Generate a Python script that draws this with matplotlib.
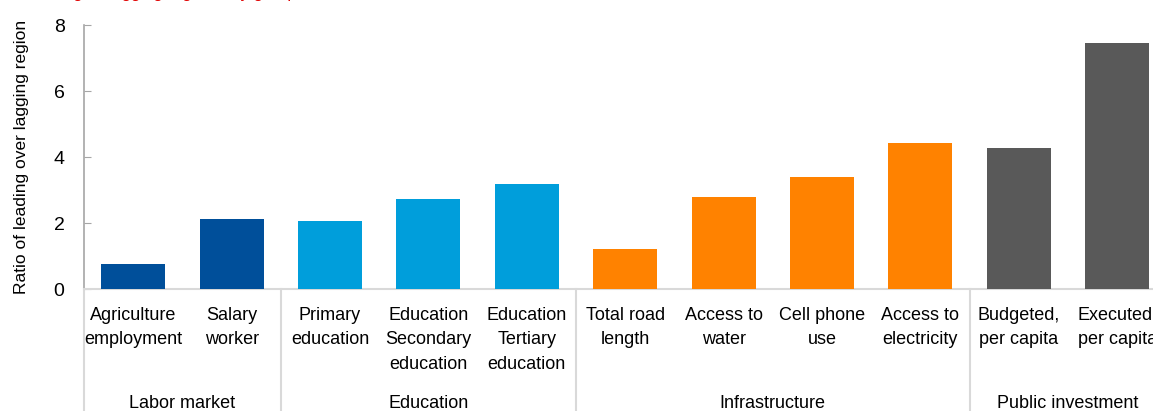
import matplotlib
matplotlib.use("Agg")
import matplotlib.pyplot as plt
import matplotlib.transforms as mtransforms

categories = ["Agriculture\nemployment", "Salary\nworker", "Primary\neducation",
              "Education\nSecondary\neducation", "Education\nTertiary\neducation",
              "Total road\nlength", "Access to\nwater", "Cell phone\nuse",
              "Access to\nelectricity", "Budgeted,\nper capita", "Executed,\nper capita"]
values = [0.75, 2.13, 2.07, 2.72, 3.17, 1.20, 2.80, 3.38, 4.42, 4.27, 7.44]
groups = ["Labor market", "Education", "Infrastructure", "Public investment"]
group_sizes = [2, 3, 4, 2]
group_colors = ["#004F9A", "#009EDB", "#FF8200", "#595959"]
yticks = [0, 2, 4, 6, 8]

plt.rcParams['font.family'] = ['Liberation Sans Narrow', 'Liberation Sans', 'DejaVu Sans']

fig = plt.figure(figsize=(11.53, 4.11), dpi=100)
ax = fig.add_axes([84/1153, (411-289)/411, 11*98.4/1153, 264/411])

colors = []
for c, n in zip(group_colors, group_sizes):
    colors += [c] * n
x = list(range(len(categories)))
ax.bar(x, values, width=0.65, color=colors, zorder=3)

ax.set_xlim(-0.5, len(categories) - 0.5)
ax.set_ylim(0, 8)
ax.set_yticks(yticks)
ax.set_yticklabels([str(t) for t in yticks], fontsize=14)
ax.tick_params(axis='y', direction='in', length=5, color='#A6A6A6', pad=14)
ax.set_xticks([])
for s in ['top', 'right']:
    ax.spines[s].set_visible(False)
ax.spines['left'].set_color('#A6A6A6')
ax.spines['bottom'].set_color('#D9D9D9')
ax.spines['left'].set_linewidth(1.2)
ax.spines['bottom'].set_linewidth(1.5)

ax.set_ylabel("Ratio of leading over lagging region", fontsize=12.5, labelpad=18)

trans = mtransforms.blended_transform_factory(ax.transData, ax.transAxes)
for i, lab in enumerate(categories):
    ax.text(i, -0.068, lab, transform=trans, ha='center', va='top',
            fontsize=13, linespacing=1.56)

start = 0
bounds = [-0.5]
for g, n in zip(groups, group_sizes):
    center = start + (n - 1) / 2
    ax.text(center, -0.435, g, transform=trans, ha='center', va='center', fontsize=13)
    start += n
    bounds.append(start - 0.5)
for b in bounds[:-1]:
    ax.plot([b, b], [0, -0.5], transform=trans, color='#D9D9D9', lw=1.5,
            clip_on=False, zorder=1)

fig.text(0.02, 1.005, "Leading vs lagging regions, by group", color='#E00000',
         fontsize=12, ha='left', va='baseline')

fig.savefig("out.png", dpi=100)
